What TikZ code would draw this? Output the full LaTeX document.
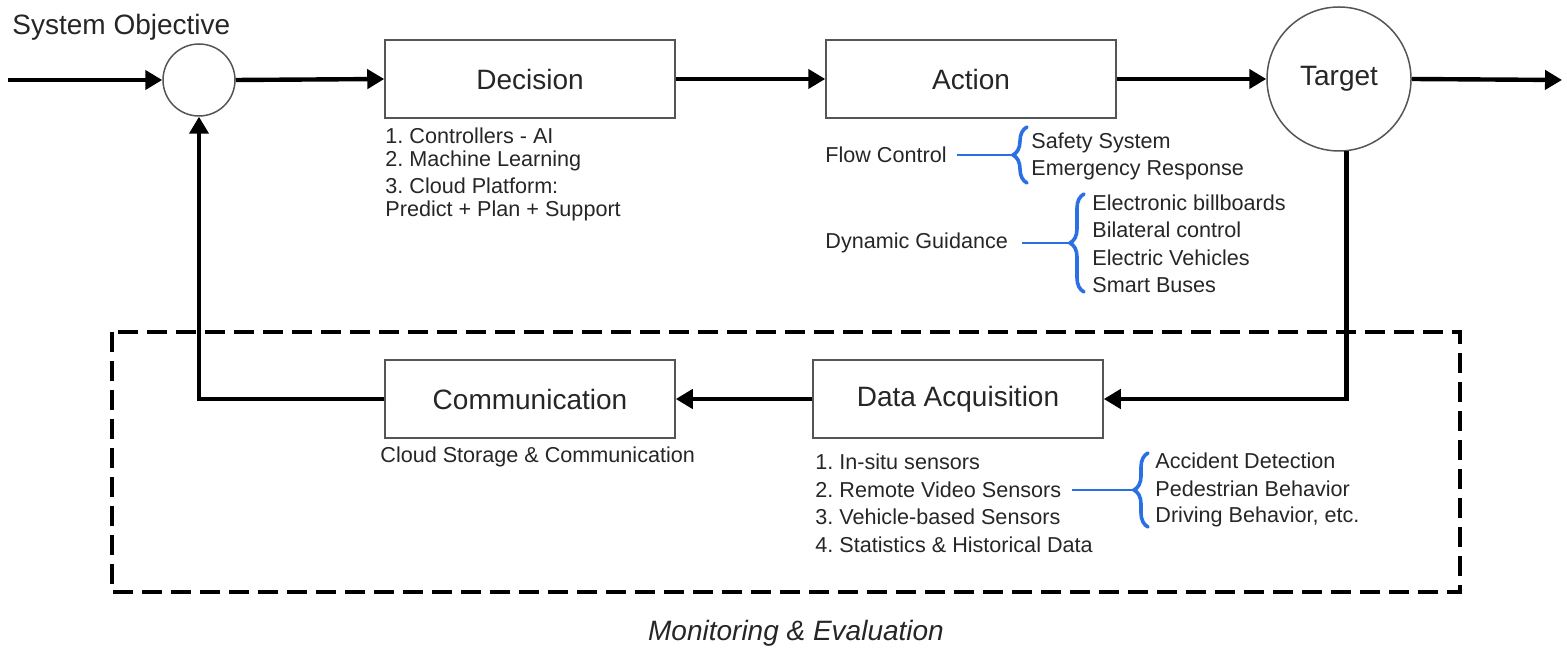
\documentclass[tikz,border=0pt]{standalone}
\usepackage{fontspec}
\setmainfont{Liberation Sans}
\usetikzlibrary{arrows.meta,decorations.pathreplacing,calc}
\definecolor{txt}{HTML}{262626}
\definecolor{edge}{HTML}{555555}
\definecolor{bl}{HTML}{2A6FE3}
\frenchspacing
\begin{document}
\begin{tikzpicture}[x=0.5pt,y=-0.5pt,
  every node/.style={text=txt, inner sep=0pt},
  small/.style={font=\fontsize{10.8pt}{13pt}\selectfont},
  big/.style={font=\fontsize{14pt}{17pt}\selectfont},
  item/.style={small, anchor=west},
  blk/.style={big, draw=edge, line width=0.75pt, minimum width=145pt, minimum height=39pt},
  junc/.style={big, circle, draw=edge, line width=0.75pt},
  flow/.style={line width=2.2pt, -{Triangle[length=8.5pt,width=9.5pt]}},
  dashbox/.style={line width=2pt, dash pattern=on 10pt off 4.5pt},
  bbrace/.style={draw=bl, line width=1.8pt, line cap=round, decorate, decoration={brace, amplitude=7pt}},
  bline/.style={draw=bl, line width=1.4pt},
]
\useasboundingbox (0,0) rectangle (1567,651);

% main loop
\coordinate (in) at (8,80);
\coordinate (out) at (1562,80);
\node[junc, minimum size=36pt] (sum) at (199,80) {};
\node[blk] (dec) at (530,79) {Decision};
\node[blk] (act) at (971,79) {Action};
\node[junc, minimum size=72pt] (tgt) at (1339,79) {Target};
\node[blk] (da) at (958,399) {Data Acquisition};
\node[blk] (com) at (530,399) {Communication};

\node[big, anchor=west] (obj) at (12,27) {System Objective};

\draw[flow] (in) -- (sum.west);
\draw[flow] (sum.east) -- (dec.west);
\draw[flow] (dec.east) -- (act.west);
\draw[flow] (act.east) -- (tgt.west);
\draw[flow] (tgt.east) -- (out);
\draw[flow] (tgt.-84) |- (da.east);
\draw[flow] (da.west) -- (com.east);
\draw[flow] (com.west) -| (sum.south);

% monitoring box
\draw[dashbox] (112,332) rectangle (1460,592);
\node[big, font=\fontsize{14pt}{17pt}\selectfont\itshape] (mon) at (796,633) {Monitoring \& Evaluation};

% decision list
\node[item] (d1) at (385,136) {1. Controllers - AI};
\node[item] (d2) at (385,161) {2. Machine Learning};
\node[item] (d3) at (385,186) {3. Cloud Platform:};
\node[item] (d4) at (385,211) {Predict + Plan + Support};

% action side
\node[item] (fc) at (825,155) {Flow Control};
\node[item] (fc1) at (1031,143) {Safety System};
\node[item] (fc2) at (1031,170) {Emergency Response};
\draw[bbrace] (1027,183) -- (1027,127);
\coordinate (fctip) at (1012,155);
\draw[bline] ($(fc.east)+(10,0)$) -- (fc.east -| fctip);

\node[item] (dg) at (825,243) {Dynamic Guidance};
\node[item] (dg1) at (1092,203) {Electronic billboards};
\node[item] (dg2) at (1092,230) {Bilateral control};
\node[item] (dg3) at (1092,258) {Electric Vehicles};
\node[item] (dg4) at (1092,285) {Smart Buses};
\draw[bbrace] (1084,292) -- (1084,194);
\coordinate (dgtip) at (1068,243);
\draw[bline] ($(dg.east)+(14,0)$) -- (dg.east -| dgtip);

% communication
\node[item] (cs) at (380,457) {Cloud Storage \& Communication};

% data acquisition list
\node[item] (s1) at (815,462) {1. In-situ sensors};
\node[item] (s2) at (815,490) {2. Remote Video Sensors};
\node[item] (s3) at (815,517) {3. Vehicle-based Sensors};
\node[item] (s4) at (815,545) {4. Statistics \& Historical Data};
\node[item] (a1) at (1155,461) {Accident Detection};
\node[item] (a2) at (1155,489) {Pedestrian Behavior};
\node[item] (a3) at (1155,517) {Driving Behavior, etc.};
\draw[bbrace] (1148,527) -- (1148,453);
\coordinate (stip) at (1133,490);
\draw[bline] ($(s2.east)+(10,0)$) -- (s2.east -| stip);
\end{tikzpicture}
\end{document}
